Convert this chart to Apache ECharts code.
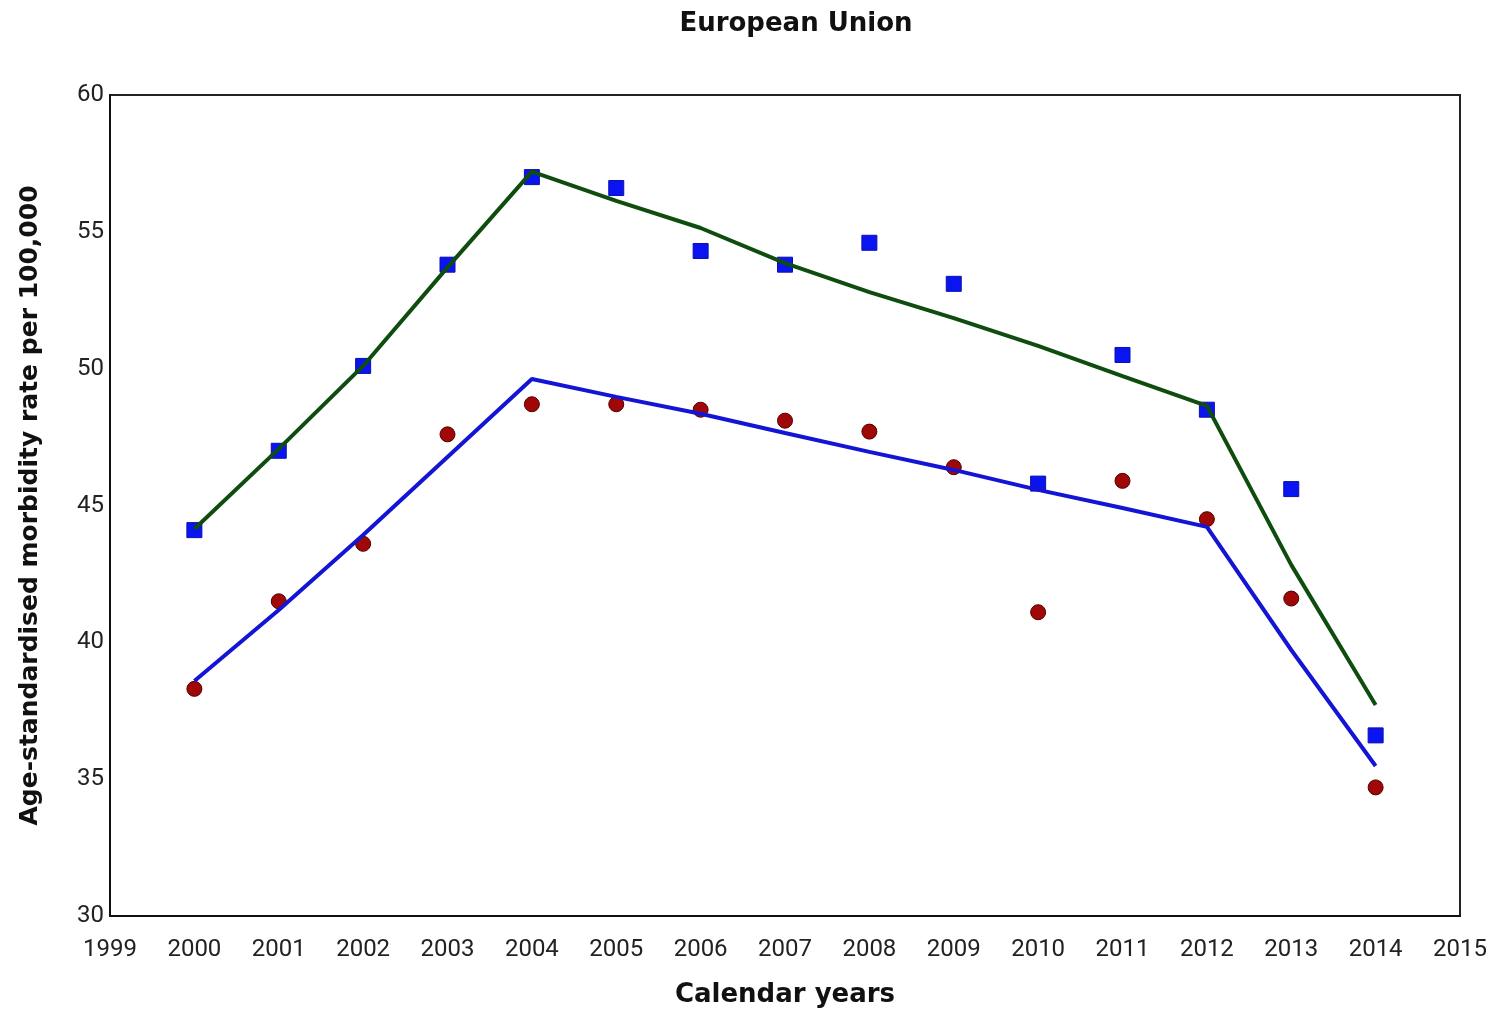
<!DOCTYPE html>
<html>
<head>
<meta charset="utf-8">
<script src="https://cdn.jsdelivr.net/npm/echarts@6/dist/echarts.min.js"></script>
<style>
html,body{margin:0;padding:0;background:#fff;}
#chart{width:1497px;height:1013px;}
</style>
</head>
<body>
<div id="chart"></div>
<script>
const years = [2000,2001,2002,2003,2004,2005,2006,2007,2008,2009,2010,2011,2012,2013,2014];
const squaresObs = [44.1,47.0,50.1,53.8,57.0,56.6,54.3,53.8,54.6,53.1,45.8,50.5,48.5,45.6,36.6];
const circlesObs = [38.3,41.5,43.6,47.6,48.7,48.7,48.5,48.1,47.7,46.4,41.1,45.9,44.5,41.6,34.7];
const greenFit = [44.14,47.07,50.1,53.7,57.2,56.13,55.14,53.86,52.8,51.85,50.83,49.73,48.64,42.83,37.71];
const blueFit = [38.59,41.18,43.92,46.77,49.62,48.97,48.35,47.65,46.96,46.3,45.57,44.91,44.22,39.72,35.48];

const pair = (arr) => years.map((y,i)=>[y,arr[i]]);

const chart = echarts.init(document.getElementById('chart'));
chart.setOption({
  animation:false,
  backgroundColor:'#ffffff',
  title:{
    text:'European Union',
    left:791, top:6, textAlign:'center',
    textStyle:{fontFamily:'DejaVu Sans',fontWeight:'bold',fontSize:26,color:'#111'}
  },
  grid:{left:110,right:37,top:95,bottom:97,show:true,borderColor:'#222',borderWidth:2,backgroundColor:'transparent'},
  xAxis:{
    type:'value',min:1999,max:2015,interval:1,
    name:'Calendar years',nameLocation:'middle',nameGap:66,
    nameTextStyle:{fontFamily:'DejaVu Sans',fontWeight:'bold',fontSize:26,color:'#111'},
    axisLine:{show:true,lineStyle:{color:'#111',width:2}},
    axisTick:{show:false},
    splitLine:{show:false},
    axisLabel:{formatter:v=>String(v),fontFamily:'Roboto',fontSize:24,color:'#222',margin:22}
  },
  yAxis:{
    type:'value',min:30,max:60,interval:5,
    name:'Age-standardised morbidity rate per 100,000',nameLocation:'middle',nameGap:67,
    nameTextStyle:{fontFamily:'DejaVu Sans',fontWeight:'bold',fontSize:25,color:'#111'},
    axisLine:{show:true,lineStyle:{color:'#111',width:2}},
    axisTick:{show:false},
    splitLine:{show:false},
    axisLabel:{fontFamily:'Roboto',fontSize:24,color:'#222',margin:6}
  },
  series:[
    {type:'scatter',data:pair(squaresObs),symbol:'rect',symbolSize:15,
     itemStyle:{color:'#0a14f0',borderColor:'#0a10b0',borderWidth:1,opacity:1},z:2},
    {type:'scatter',data:pair(circlesObs),symbol:'circle',symbolSize:15,
     itemStyle:{color:'#a00808',borderColor:'#500000',borderWidth:1,opacity:1},z:2},
    {type:'line',data:pair(greenFit),showSymbol:false,symbol:'none',
     lineStyle:{color:'#0e4d0e',width:4},z:3},
    {type:'line',data:pair(blueFit),showSymbol:false,symbol:'none',
     lineStyle:{color:'#1414d4',width:4},z:3}
  ]
});
</script>
</body>
</html>
